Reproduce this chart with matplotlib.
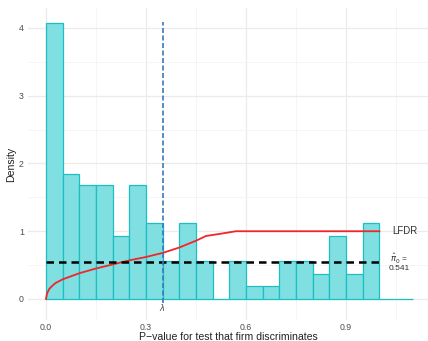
import numpy as np
import matplotlib.pyplot as plt

# Histogram of p-values (bin width 0.05, from 0 to 1.1)
bin_left = [0.00, 0.05, 0.10, 0.15, 0.20, 0.25, 0.30, 0.35, 0.40, 0.45, 0.50,
            0.55, 0.60, 0.65, 0.70, 0.75, 0.80, 0.85, 0.90, 0.95, 1.00, 1.05]
density = [4.07, 1.85, 1.68, 1.68, 0.93, 1.68, 1.12, 0.56, 1.12, 0.56, 0.0,
           0.56, 0.19, 0.19, 0.56, 0.56, 0.37, 0.93, 0.37, 1.12, 0.0, 0.0]
bin_width = 0.05

# LFDR curve
lfdr_x = [0.0, 0.003, 0.01, 0.02, 0.03, 0.05, 0.10, 0.15, 0.20, 0.25, 0.30,
          0.35, 0.40, 0.45, 0.48, 0.52, 0.57, 1.0]
lfdr_y = [0.0, 0.08, 0.15, 0.20, 0.24, 0.29, 0.38, 0.45, 0.51, 0.57, 0.62,
          0.68, 0.76, 0.86, 0.93, 0.96, 1.0, 1.0]

lam = 0.35
pi0 = 0.541

plt.rcParams['font.family'] = ['Liberation Sans', 'DejaVu Sans']
fig = plt.figure(figsize=(4.28, 3.41), dpi=100)
ax = fig.add_axes([0.0654, 0.0616, 0.9346, 0.915])

fill = '#80dfe1'
edge = '#1bbfc4'
ax.bar(bin_left, density, width=bin_width, align='edge', color=fill,
       edgecolor=edge, linewidth=0.9, zorder=2)

ax.plot(lfdr_x, lfdr_y, color='#f0262a', linewidth=1.3, zorder=4)
ax.plot([0, 1.0], [pi0, pi0], color='black', linestyle=(0, (3, 2)),
        linewidth=1.8, zorder=5)
ax.plot([lam, lam], [-0.06, 4.09], color='#3a78bd', linestyle=(0, (3, 1.5)),
        linewidth=1.2, zorder=5)

ax.text(lam, -0.13, r'$\lambda$', ha='center', va='center', fontsize=6,
        color='#4d4d4d')
ax.text(1.04, 1.0, 'LFDR', ha='left', va='center', fontsize=7, color='#333333')
ax.text(1.06, 0.545, r'$\hat{\pi}_0$ =' + '\n0.541', ha='center', va='center',
        fontsize=6, color='#333333', linespacing=0.9)

ax.set_xlim(-0.054, 1.146)
ax.set_ylim(-0.31, 4.295)
ax.set_xticks([0.0, 0.3, 0.6, 0.9])
ax.set_xticklabels(['0.0', '0.3', '0.6', '0.9'])
ax.set_xticks([0.15, 0.45, 0.75, 1.05], minor=True)
ax.set_yticks([0, 1, 2, 3, 4])
ax.set_yticks([0.5, 1.5, 2.5, 3.5], minor=True)

ax.grid(which='major', color='#ebebeb', linewidth=0.9, zorder=0)
ax.grid(which='minor', color='#f4f4f4', linewidth=0.6, zorder=0)
ax.set_axisbelow(True)
for s in ax.spines.values():
    s.set_visible(False)
ax.tick_params(which='both', length=0, labelsize=6.3, labelcolor='#4d4d4d')
ax.tick_params(axis='x', pad=2)
ax.tick_params(axis='y', pad=3)

ax.set_xlabel('P\u2212value for test that firm discriminates', fontsize=7.6,
              color='#222222', labelpad=0)
ax.set_ylabel('Density', fontsize=7.6, color='#222222', labelpad=2)

fig.savefig('out.png', dpi=100)
